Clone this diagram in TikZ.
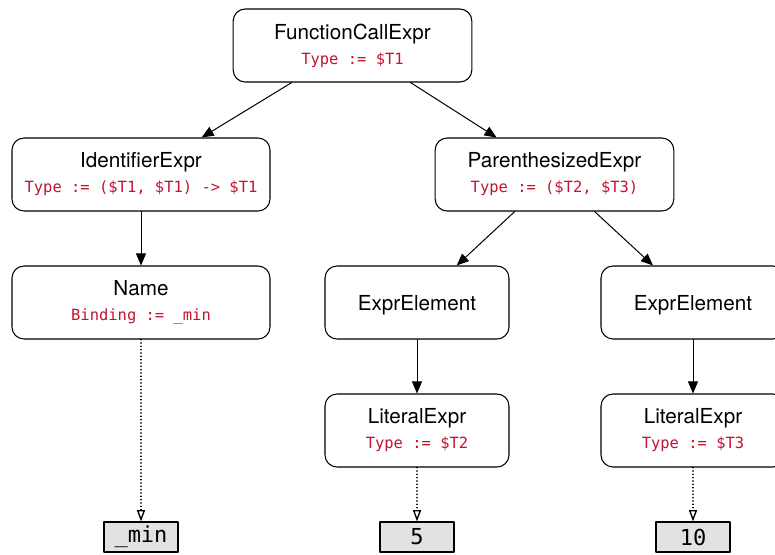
\documentclass[tikz,border=0pt]{standalone}
\usepackage{fontspec}
\setmainfont{TeX Gyre Heros}
\setmonofont{DejaVu Sans Mono}
\usetikzlibrary{arrows.meta}

\begin{document}
\begin{tikzpicture}[x=0.75pt,y=-0.75pt,line cap=round,line join=round,
  astbox/.style={draw=black,line width=0.8pt,rounded corners=9pt,fill=white,
    minimum height=54.75pt,inner sep=0pt,align=center,
    font=\fontsize{15.5}{18.75}\selectfont,
    execute at begin node={\rule{0pt}{15.5pt}}},
  leafbox/.style={draw=black,line width=0.8pt,fill=leafgray,
    minimum width=55.5pt,minimum height=22.5pt,inner sep=0pt,
    font=\ttfamily\fontsize{16.5}{18}\selectfont},
  childedge/.style={-{Triangle[length=9pt,width=7.5pt]},line width=0.75pt},
  valueedge/.style={-{Triangle[open,length=8.5pt,width=6pt]},line width=1pt,
    dash pattern=on 0.2pt off 2.3pt}]
\definecolor{attrred}{RGB}{196,18,48}
\definecolor{leafgray}{RGB}{226,226,226}

\newcommand{\attr}[1]{{\ttfamily\fontsize{11.6}{18.75}\selectfont\color{attrred}#1}}

\useasboundingbox (0,0) rectangle (775,554);
\clip (0,0) rectangle (775,554);

% tree nodes
\node[astbox,minimum width=179pt] (call) at (352.5,45.5)
  {FunctionCallExpr\\\attr{Type := \$T1}};
\node[astbox,minimum width=193.5pt] (ident) at (141,174.5)
  {IdentifierExpr\\\attr{Type := (\$T1, \$T1) -> \$T1}};
\node[astbox,minimum width=179pt] (paren) at (554.5,174.5)
  {ParenthesizedExpr\\\attr{Type := (\$T2, \$T3)}};
\node[astbox,minimum width=193.5pt] (name) at (141,302.5)
  {Name\\\attr{Binding := \_min}};
\node[astbox,minimum width=138pt] (elemA) at (417,302.5) {ExprElement};
\node[astbox,minimum width=138pt] (elemB) at (693,302.5) {ExprElement};
\node[astbox,minimum width=138pt] (litA) at (417,430.5)
  {LiteralExpr\\\attr{Type := \$T2}};
\node[astbox,minimum width=138pt] (litB) at (693,430.5)
  {LiteralExpr\\\attr{Type := \$T3}};

% token leaves
\node[leafbox] (minleaf) at (141,537) {\_min};
\node[leafbox] (fiveleaf) at (417,537) {5};
\node[leafbox] (tenleaf) at (693,537) {10};

\draw[childedge] (call) -- (ident);
\draw[childedge] (call) -- (paren);
\draw[childedge] (ident) -- (name);
\draw[childedge] (paren) -- (elemA);
\draw[childedge] (paren) -- (elemB);
\draw[childedge] (elemA) -- (litA);
\draw[childedge] (elemB) -- (litB);

\draw[valueedge] (name) -- (minleaf);
\draw[valueedge] (litA) -- (fiveleaf);
\draw[valueedge] (litB) -- (tenleaf);
\end{tikzpicture}
\end{document}
